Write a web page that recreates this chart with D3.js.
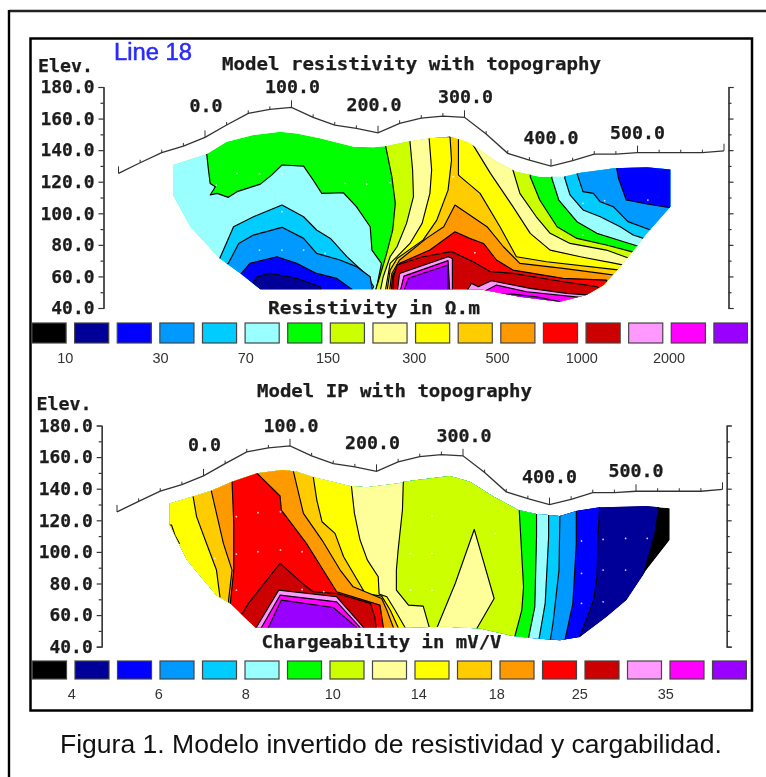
<!DOCTYPE html>
<html><head><meta charset="utf-8">
<style>html,body{margin:0;padding:0;background:#fff}svg{display:block}</style>
<script src="https://cdn.jsdelivr.net/npm/d3@7/dist/d3.min.js"></script>
</head><body><div id="chart"></div>
<script>
const topoDist=[-100,-75,-50,-25,0,25,50,75,100,125,150,175,200,225,250,275,300,325,350,375,400,425,450,475,500,525,550,575,600];
const topoElev=[125.3,132,138.4,142.6,148.1,155.9,163.3,165.8,167.1,160.8,155.9,153.8,151,157,160.3,161.6,160.8,150.2,138,133.7,129.9,133.3,137.5,137.5,138.4,138.4,138.4,138.4,139.6];
const elevTicks=[40,60,80,100,120,140,160,180];
const elevMinor=[50,70,90,110,130,150,170];
const distLabels=[0,100,200,300,400,500];
const palette=["#000000","#000099","#0000ff","#0099ff","#00ccff","#99ffff","#00ff00","#ccff00","#ffff99","#ffff00","#ffcc00","#ff9900","#ff0000","#cc0000","#ff99ff","#ff00ff","#9900ff"];
const resLegend=["10","30","70","150","300","500","1000","2000"];
const ipLegend=["4","6","8","10","14","18","25","35"];

const resEnvelope=[[-37,130.6],[2,137.5],[25,145.3],[56,149.6],[87,151.7],[106,150.6],[133,147.5],[172,142.2],[195,141.8],[210,142.6],[233,145.3],[260,147.5],[283,148.5],[303,145.3],[318,140.1],[337,132.7],[360,126.3],[387,123.2],[414,123.2],[434,125.7],[472,128.5],[511,129.1],[538,127.8],[538,104.2],[511,87.3],[499,78.8],[480,66.1],[461,54.5],[441,48.2],[410,44],[364,47.1],[318,51.8],[64,51.8],[41,61.9],[17,71.4],[-17,91.5],[-37,111.6]];
const resPaleCyanL=[[2,144.3],[2,137.5],[4,127.4],[6,118.9],[12,116.8],[6,111.6],[14,112.6],[27,110.1],[37,113.7],[64,118.5],[77,124.2],[89,130.6],[114,129.9],[125,121.1],[135,112.6],[160,113],[175,104.2],[191,91.5],[193,76.7],[204,68.3],[197,49.3],[-98,49.3],[-98,144.3]];
const resCyanL=[[10,68.3],[17,71.4],[33,91.5],[56,97.8],[89,105.2],[114,97.8],[129,89.4],[145,84.1],[164,72.5],[187,60.9],[195,53.5],[191,49.3],[10,49.3]];
const resSkyL=[[21,66.2],[27,68.3],[39,80.9],[56,86.2],[89,91.1],[114,84.1],[129,74.6],[156,70.4],[175,66.2],[191,59.8],[194,49.3],[21,49.3]];
const resBlueL=[[37,59.8],[42,61.9],[52,68.3],[83,72.5],[106,68.3],[129,61.9],[152,58.8],[170,51.8],[172,49.3],[37,49.3]];
const resNavyL=[[48,49.3],[54,54.5],[60,59.8],[75,61.9],[106,58.8],[133,53.5],[135,49.3]];
const resPaleCyanR=[[401,131.6],[401,122.1],[409,108.4],[430,94.7],[453,87.3],[484,82],[503,78.8],[511,74.6],[549,74.6],[549,131.6]];
const resCyanR=[[416,131.6],[416,122.1],[422,111.6],[437,102.1],[457,97.8],[480,91.5],[495,86.2],[507,84.1],[515,80.9],[549,80.9],[549,131.6]];
const resSkyR=[[430,131.6],[430,125.3],[437,113.7],[449,112.6],[457,107.3],[472,104.2],[489,94.7],[515,89.4],[522,85.2],[549,85.2],[549,131.6]];
const resBlueR=[[476,131.6],[476,128.5],[478,122.1],[487,108.4],[511,105.9],[536,103.7],[549,102],[549,131.6]];
const resLime=[[209,148.5],[209,142.2],[216,123.2],[220,106.3],[217,89.4],[210,74.6],[202,59.8],[196,49.3],[196,40.8],[511,40.8],[507,72.5],[493,75.7],[464,79.9],[430,84.1],[407,91.5],[387,108.4],[376,123.2],[376,148.5]];
const resCream=[[237,148.5],[237,145.3],[240,127.4],[241,110.5],[233,93.6],[222,78.8],[214,72.5],[206,59.8],[202,49.3],[202,40.8],[503,40.8],[499,68.3],[491,71.4],[464,76.7],[422,80.9],[399,87.3],[383,97.8],[364,112.6],[356,127.4],[356,148.5]];
const resYellow=[[259,148.5],[262,127.4],[260,112.6],[251,93.6],[237,80.9],[222,72.5],[214,68.3],[208,49.3],[208,40.8],[499,40.8],[491,65.1],[484,67.2],[434,72.5],[399,76.7],[376,87.3],[356,104.2],[330,125.3],[310,143.2],[306,148.5]];
const resGold=[[283,150.6],[285,133.7],[281,114.7],[268,95.7],[252,83],[222,71.4],[214,64],[210,49.3],[210,40.8],[491,40.8],[486,61.9],[480,64],[395,69.3],[360,72.5],[341,91.5],[318,112.6],[293,124.2],[293,150.6]];
const resOrange=[[289,105.2],[276,91.5],[256,84.1],[225,70.4],[216,61.9],[213,49.3],[213,40.8],[480,40.8],[478,58.8],[472,60.9],[414,65.1],[364,68.3],[345,78.8],[326,91.5]];
const resRed=[[289,88.3],[260,76.7],[225,68.3],[217,60.9],[215,49.3],[215,40.8],[472,40.8],[466,55.6],[464,57.7],[414,58.8],[356,64],[337,70.4],[322,80.9],[306,84.1]];
const resDarkRed=[[285,75.7],[252,72.5],[222,67.2],[218,59.8],[217,49.3],[217,40.8],[461,40.8],[457,52.4],[453,53.5],[414,56.6],[356,61.9],[330,63],[310,69.3]];
const resPinkC=[[222,49.3],[225,61.9],[281,72.5],[286,71.4],[286,49.3]];
const resMagentaC=[[225,49.3],[230,60.2],[281,70],[283,49.3]];
const resPurpleC=[[229,49.3],[235,58.8],[281,67.2],[281,49.3]];
const resPinkR=[[301,49.3],[308,55.6],[316,53.5],[331,57.3],[376,52.4],[418,49.3],[445,48.2],[449,40.8],[318,40.8]];
const resMagentaR=[[322,50.3],[337,54.5],[372,50.3],[434,46.7],[441,40.8],[326,40.8]];
const resPurpleR=[[335,48.8],[356,48.8],[383,47.1],[410,44],[416,40.8],[337,40.8]];
const resDots=[[13,117.9],[37,125.3],[63,124.9],[89,124.9],[162,119],[187,118.5],[214,119.4],[63,76.7],[89,76.7],[114,76.7],[139,74.6],[89,101],[437,106.3],[462,108],[512,108.4],[287,123.2],[312,120],[312,75],[412,85.2],[437,86.2]];

const ipEnvelope=[[-39,130.7],[-12,135],[9,138.7],[33,144.4],[62,149.7],[92,151.8],[108,150.8],[127,147.2],[169,141.7],[189,140.9],[227,143.4],[231,144.4],[285,148],[308,144.4],[335,135],[364,126.5],[385,124],[412,122.7],[432,126.1],[458,128.2],[512,129],[539,127.6],[539,107.5],[512,88.5],[489,69.5],[466,58.9],[435,46.2],[412,44.1],[385,45.2],[358,46.7],[320,51.5],[281,52.6],[227,52.2],[60,52.2],[31,67.4],[15,72.6],[-19,94.8],[-39,117]];
const ipNavy=[[526,135],[526,127.5],[522,111.7],[510,88.5],[505,80],[505,35.7]];
const ipBlue=[[458,135],[458,128.2],[456,109.6],[455,84.3],[451,69.5],[435,46.2],[433,40]];
const ipSky=[[431,135],[431,125.4],[431,105.4],[427,67.4],[418,44.5],[416,37.8]];
const ipCyan=[[412,135],[412,122.3],[411,88.5],[404,54.7],[401,44.5],[399,37.8]];
const ipPaleCyan=[[399,135],[399,123.3],[399,109.6],[395,67.4],[388,45.2],[385,37.8]];
const ipGreen=[[385,135],[385,124],[385,109.6],[383,65.2],[376,46.2],[374,37.8]];
const ipLime=[[365,135],[365,126.5],[370,77.9],[368,63.1],[360,46.7],[358,37.8]];
const ipCream=[[231,151.8],[231,144.4],[230,126.5],[225,101.2],[223,88.5],[223,75.8],[237,66.3],[254,65.7],[261,52.2],[261,46.2]];
const ipCreamLobe=[[270,46.2],[270,52.2],[291,80],[313,114.2],[336,70.5],[316,51.5],[316,46.2]];
const ipYellow=[[171,147.6],[171,141.7],[174.5,124.4],[181,107.5],[189.5,94.8],[202,84.3],[203,73.3],[212,71.6],[221.5,63.1],[233,52.2],[235,46.2]];
const ipYellowArc=[[-37,117],[-33,110.6],[-28,105.4],[-50,105.4],[-50,117]];
const ipGold=[[-12,156],[-12,135],[-8,122.3],[2,107.5],[15,88.5],[19,71.6],[17,63.1],[17,46.2],[227,46.2],[225,52.2],[216,63.1],[206,72],[187,73.7],[162,96.9],[152,111.7],[137,119.1],[131,132.8],[127,147.2],[125,156]];
const ipOrange=[[9,156],[9,138.7],[15,124.4],[23,105.4],[33,88.5],[29,69.5],[29,46.2],[221,46.2],[219.5,52.2],[212,63.1],[206,70.5],[173,77.9],[158,88.5],[137,107.5],[115.5,124.4],[110,137],[104,150.8],[102,156]];
const ipRed=[[33,156],[33,144.4],[35,118],[35,88.5],[31,67.4],[31,46.2],[210,46.2],[208,52.2],[204,66.3],[154,74.8],[119,105.4],[90,126.5],[88.5,135.4],[62,149.7],[54,156]];
const ipDarkRed=[[40,60],[45,61],[52,67.4],[88.5,92.7],[119,77.9],[127,74.8],[154,73.7],[193,67.4],[198,58.9],[199.5,52.2],[199.5,46.2],[40,46.2]];
const ipPink=[[58,46.2],[61,52.2],[87,75.8],[154,71.6],[185,52.2],[187,46.2]];
const ipMagenta=[[63,46.2],[67,52.2],[88.5,72.6],[154,68.4],[181,52.2],[181,46.2]];
const ipPurple=[[71,46.2],[75,52.2],[90,69.5],[150,64.8],[177,52.2],[177,46.2]];
const ipDots=[[38,122.3],[63,124.8],[89,125.4],[38,98.6],[63,100.1],[89,101.2],[114,100.1],[38,75.8],[114,76.2],[139,74.8],[13,95.9],[437,106.9],[462,107.9],[488,108.5],[513,108.5],[437,86.4],[462,88.5],[488,88.5],[437,67.4],[462,68.4],[264,122.9],[239,99],[264,99],[363,87.4],[239,75.8],[264,75.8],[337,111.7]];

const W=766,H=777;
const svg=d3.select("#chart").append("svg").attr("width",W).attr("height",H).attr("viewBox",[0,0,W,H]);
const defs=svg.append("defs");
defs.append("filter").attr("id","soft").attr("x",0).attr("y",0).attr("width",1).attr("height",1)
  .append("feGaussianBlur").attr("stdDeviation",0.6);
const MONO="'DejaVu Sans Mono',monospace", SANS="'Liberation Sans',Arial,sans-serif";

svg.append("line").attr("x1",9).attr("x2",W).attr("y1",11).attr("y2",11).attr("stroke","#222").attr("stroke-width",2.4);
svg.append("line").attr("x1",9).attr("x2",9).attr("y1",10).attr("y2",H).attr("stroke","#000").attr("stroke-width",2.4);
svg.append("rect").attr("x",30.5).attr("y",38.5).attr("width",721.5).attr("height",672).attr("fill","none").attr("stroke","#000").attr("stroke-width",2.5);

function monoText(g,str,x,y,len,anchor){
  return g.append("text").text(str).attr("x",x).attr("y",y).attr("textLength",len).attr("lengthAdjust","spacingAndGlyphs")
    .attr("text-anchor",anchor||"start").attr("font-family",MONO).attr("font-weight","bold").attr("font-size",17)
    .attr("fill","#1c1c1c").attr("stroke","#1c1c1c").attr("stroke-width",0.25);
}
const closeLeft=c=>c.concat([[-110,30],[-110,170],[c[0][0],170]]);

function panel(o){
  const g=svg.append("g").attr("filter","url(#soft)");
  const x=d3.scaleLinear().domain([-100,600]).range(o.xr);
  const y=d3.scaleLinear().domain([40,180]).range(o.yr);
  const line=d3.line().x(d=>x(d[0])).y(d=>y(d[1]));
  defs.append("clipPath").attr("id",o.id).append("path").attr("d",line(o.envelope)+"Z");
  const sec=g.append("g").attr("clip-path",`url(#${o.id})`);
  sec.append("path").attr("d",line(o.envelope)+"Z").attr("fill",o.base);
  sec.selectAll("path.band").data(o.layers).join("path").attr("class","band")
    .attr("d",d=>line(d[1])+"Z").attr("fill",d=>d[0]).attr("stroke","#000").attr("stroke-width",1.15).attr("stroke-linejoin","round");
  g.append("g").selectAll("circle").data(o.dots).join("circle").attr("cx",d=>x(d[0])).attr("cy",d=>y(d[1])).attr("r",0.9).attr("fill","#fff").attr("opacity",.8);

  // topography
  const topo=topoDist.map((d,i)=>[d,topoElev[i]]);
  g.append("path").attr("d",line(topo)).attr("fill","none").attr("stroke","#333").attr("stroke-width",1.3);
  g.append("g").selectAll("line").data(topo).join("line")
    .attr("x1",d=>x(d[0])).attr("x2",d=>x(d[0])).attr("y1",d=>y(d[1]))
    .attr("y2",d=>y(d[1])-(d[0]%100===0?7:3)).attr("stroke","#333").attr("stroke-width",1);
  distLabels.forEach((d,i)=>{
    const e=topoElev[topoDist.indexOf(d)];
    monoText(g,d3.format(".1f")(d),x(d)+o.labelShift[i],y(e)-o.labelLift[i],d===0?33:55,"middle");
  });

  // axes
  const ax=(gen,px)=>{
    const a=g.append("g").attr("transform",`translate(${px},0)`).call(gen);
    a.selectAll("path,line").attr("stroke","#333").attr("stroke-width",1.2);
    return a;
  };
  const left=ax(d3.axisLeft(y).tickValues(elevTicks).tickSize(5).tickSizeOuter(5).tickPadding(4).tickFormat(d3.format(".1f")),o.axL);
  left.selectAll("text").attr("font-family",MONO).attr("font-weight","bold").attr("font-size",17).attr("fill","#1c1c1c")
    .attr("stroke","#1c1c1c").attr("stroke-width",0.25)
    .attr("dy","0.34em").attr("textLength",function(){return this.textContent.length*10.8;}).attr("lengthAdjust","spacingAndGlyphs");
  ax(d3.axisLeft(y).tickValues(elevMinor).tickSize(3).tickSizeOuter(0).tickFormat(""),o.axL);
  ax(d3.axisRight(y).tickValues(elevTicks).tickSize(5).tickSizeOuter(5).tickFormat(""),o.axR);
  ax(d3.axisRight(y).tickValues(elevMinor).tickSize(3).tickSizeOuter(0).tickFormat(""),o.axR);

  // titles
  monoText(g,"Elev.",o.elev[0],o.elev[1],55);
  monoText(g,o.title,o.titleAt[0],o.titleAt[1],o.titleAt[2]);
  monoText(g,o.unit,o.unitAt[0],o.unitAt[1],o.unitAt[2]);

  // legend
  const band=d3.scaleBand().domain(d3.range(palette.length)).range(o.legX).paddingInner(0.2);
  g.append("g").selectAll("rect").data(palette).join("rect")
    .attr("x",(d,i)=>band(i)).attr("y",o.legY).attr("width",band.bandwidth()).attr("height",o.legH)
    .attr("fill",d=>d).attr("stroke","#444").attr("stroke-width",1.2);
  g.append("g").selectAll("text").data(o.legend).join("text").text(d=>d)
    .attr("x",(d,i)=>band(i*2)+band.bandwidth()+band.step()*0.1+o.legShift[i]).attr("y",o.legY+o.legH+19.5)
    .attr("text-anchor","middle").attr("font-family",SANS).attr("font-size",14.5).attr("fill","#333");
}

panel({id:"clipRes",xr:[118.5,724],yr:[308,87],axL:103.5,axR:728.5,
  envelope:resEnvelope,base:"#00ff00",dots:resDots,
  layers:[["#99ffff",resPaleCyanL],["#00ccff",resCyanL],["#0099ff",resSkyL],["#0000ff",resBlueL],["#000099",resNavyL],
    ["#99ffff",resPaleCyanR],["#00ccff",resCyanR],["#0099ff",resSkyR],["#0000ff",resBlueR],
    ["#ccff00",resLime],["#ffff99",resCream],["#ffff00",resYellow],["#ffcc00",resGold],["#ff9900",resOrange],["#ff0000",resRed],["#cc0000",resDarkRed],
    ["#ff99ff",resPinkC],["#ff00ff",resMagentaC],["#9900ff",resPurpleC],["#ff99ff",resPinkR],["#ff00ff",resMagentaR],["#9900ff",resPurpleR]],
  labelLift:[25,14,22,14,22,14],labelShift:[1,1,-4,1,0,0],
  elev:[38,72],title:"Model resistivity with topography",titleAt:[222,70,379],
  unit:"Resistivity in Ω.m",unitAt:[268,314,212],
  legX:[32,748],legY:323,legH:20,legend:resLegend,legShift:[-5,5,5,2,3,1,0,2]});

panel({id:"clipIP",xr:[117,722.5],yr:[646.7,425.5],axL:101.7,axR:726.7,
  envelope:ipEnvelope,base:"#000000",dots:ipDots,
  layers:[["#000099",closeLeft(ipNavy)],["#0000ff",closeLeft(ipBlue)],["#0099ff",closeLeft(ipSky)],["#00ccff",closeLeft(ipCyan)],["#99ffff",closeLeft(ipPaleCyan)],["#00ff00",closeLeft(ipGreen)],["#ccff00",closeLeft(ipLime)],
    ["#ffff99",closeLeft(ipCream)],["#ffff99",ipCreamLobe],["#ffff00",closeLeft(ipYellow)],["#ffff00",ipYellowArc],["#ffcc00",ipGold],["#ff9900",ipOrange],["#ff0000",ipRed],["#cc0000",ipDarkRed],["#ff99ff",ipPink],["#ff00ff",ipMagenta],["#9900ff",ipPurple]],
  labelLift:[25,14,22,14,22,14],labelShift:[1,1,-4,1,0,0],
  elev:[36.5,410],title:"Model IP with topography",titleAt:[257,397,275],
  unit:"Chargeability in mV/V",unitAt:[261.5,648,240],
  legX:[32.5,746.5],legY:661,legH:18,legend:ipLegend,legShift:[1,3,5,7,8,1,-1,0]});

svg.append("text").text("Figura 1. Modelo invertido de resistividad y cargabilidad.")
  .attr("x",60).attr("y",753).attr("textLength",662).attr("lengthAdjust","spacingAndGlyphs")
  .attr("font-family",SANS).attr("font-size",26).attr("fill","#111");
svg.append("text").text("Line 18").attr("x",114).attr("y",60).attr("font-family",SANS).attr("font-size",23)
  .attr("textLength",78).attr("lengthAdjust","spacingAndGlyphs").attr("fill","#2a2aff").attr("stroke","#2a2aff").attr("stroke-width",.5);
</script></body></html>
